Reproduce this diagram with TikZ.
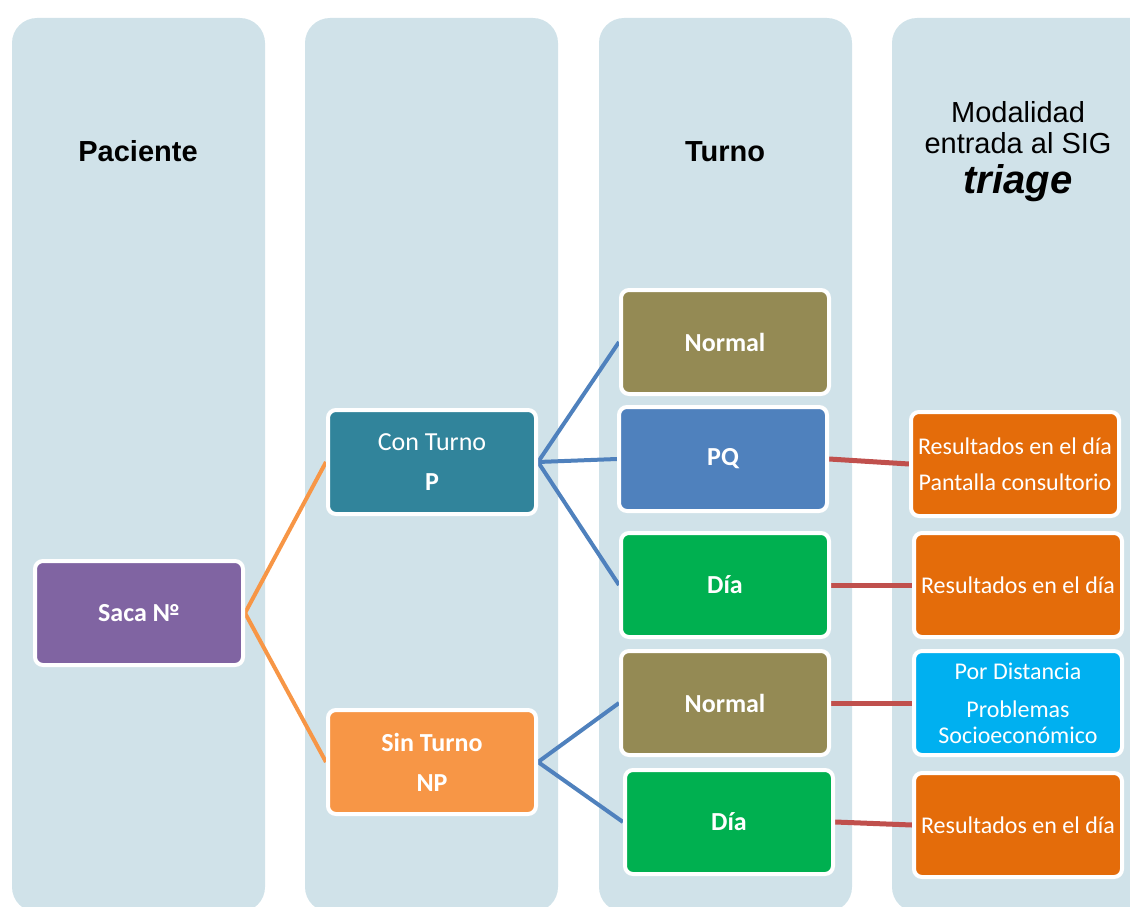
\documentclass[tikz,border=0pt]{standalone}
\usepackage{fontspec}
\setmainfont{Liberation Sans}
\newfontfamily\calfont{Carlito}
\usetikzlibrary{backgrounds}
\definecolor{colbg}{HTML}{D0E2E9}
\definecolor{cpurple}{HTML}{8064A2}
\definecolor{cteal}{HTML}{31849B}
\definecolor{corange}{HTML}{F79646}
\definecolor{colive}{HTML}{948A54}
\definecolor{cblue}{HTML}{4F81BD}
\definecolor{cgreen}{HTML}{00B050}
\definecolor{cdorange}{HTML}{E46C0A}
\definecolor{ccyan}{HTML}{00B0F0}
\definecolor{cred}{HTML}{C0504D}
\begin{document}
\begin{tikzpicture}[x=1pt,y=-1pt,
  column/.style={fill=colbg, rounded corners=25pt},
  box/.style={draw=white, line width=4pt, rounded corners=8pt,
    minimum width=208pt, minimum height=104pt, inner sep=0pt,
    text=white, align=center,
    font=\calfont\bfseries\fontsize{26}{40}\selectfont},
  rbox/.style={box, font=\calfont\fontsize{24}{36}\selectfont},
  title/.style={anchor=base, inner sep=0pt, font=\bfseries\fontsize{29}{34}\selectfont},
  ttl/.style={anchor=base, inner sep=0pt, font=\fontsize{29}{34}\selectfont},
  oline/.style={draw=corange, line width=4pt},
  bline/.style={draw=cblue, line width=4pt},
  rline/.style={draw=cred, line width=5pt}]
\useasboundingbox (0,0) rectangle (1130,907);
\clip (0,0) rectangle (1130,907);

\begin{scope}[on background layer]
  \fill[column] (12,18) rectangle (265,912);
  \fill[column] (305,18) rectangle (558,912);
  \fill[column] (599,18) rectangle (852,912);
  \fill[column] (892,18) rectangle (1160,912);
\end{scope}

\node[title] (tpac) at (138,161) {Paciente};
\node[title] (ttur) at (725,161) {Turno};
\node[ttl] (tmod1) at (1018,122) {Modalidad};
\node[ttl] (tmod2) at (1018,153) {entrada al SIG};
\node[anchor=base, inner sep=0pt, font=\bfseries\itshape\fontsize{40}{44}\selectfont] (tmod3) at (1018,193) {triage};

\node[box, fill=cpurple] (saca) at (139,613) {Saca №};
\node[box, fill=cteal] (con) at (432,462) {{\mdseries Con Turno}\\P};
\node[box, fill=corange] (sin) at (432,762) {Sin Turno\\NP};

\node[box, fill=colive] (n1) at (725,342) {Normal};
\node[box, fill=cblue] (pq) at (723,459) {PQ};
\node[box, fill=cgreen] (d1) at (725,585) {Día};
\node[box, fill=colive] (n2) at (725,703) {Normal};
\node[box, fill=cgreen] (d2) at (729,822) {Día};

\node[rbox, fill=cdorange] (r1) at (1015,464) {Resultados en el día\\Pantalla consultorio};
\node[rbox, fill=cdorange] (r2) at (1018,585) {Resultados en el día};
\node[rbox, fill=ccyan, font=\calfont\fontsize{24}{30}\selectfont] (pd) at (1018,703) {Por Distancia\\[8pt]Problemas\\[-4pt]Socioeconómico};
\node[rbox, fill=cdorange] (r3) at (1018,825) {Resultados en el día};

\begin{scope}[on background layer]
  \draw[oline] (saca.east) -- (con.west);
  \draw[oline] (saca.east) -- (sin.west);
  \draw[bline] (con.east) -- (n1.west);
  \draw[bline] (con.east) -- (pq.west);
  \draw[bline] (con.east) -- (d1.west);
  \draw[bline] (sin.east) -- (n2.west);
  \draw[bline] (sin.east) -- (d2.west);
  \draw[rline] (pq.east) -- (r1.west);
  \draw[rline] (d1.east) -- (r2.west);
  \draw[rline] (n2.east) -- (pd.west);
  \draw[rline] (d2.east) -- (r3.west);
\end{scope}
\end{tikzpicture}
\end{document}
